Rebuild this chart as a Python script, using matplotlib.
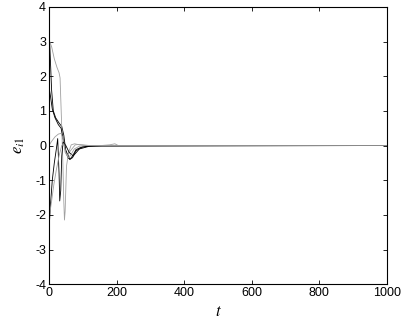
import matplotlib
matplotlib.use("Agg")
import matplotlib.pyplot as plt

plt.rcParams['font.family'] = ['Liberation Sans', 'DejaVu Sans']
plt.rcParams['mathtext.fontset'] = 'stix'
plt.rcParams['axes.unicode_minus'] = False

# Curve samples (t, e_i1)
t1 = [0, 3, 8, 13, 20, 30, 38, 44, 50, 56, 62, 70, 80, 95, 120, 160, 1000]
e1 = [3.5, 2.8, 1.6, 1.0, 0.8, 0.65, 0.55, 0.3, -0.15, -0.35, -0.4, -0.3, -0.12, -0.05, -0.02, 0.0, 0.0]

t2 = [2, 8, 16, 24, 30, 33, 37, 41, 44, 46, 48, 52, 58, 66, 76, 90, 130, 180, 195, 205, 1000]
e2 = [3.0, 2.85, 2.5, 2.25, 2.1, 1.95, 0.8, -0.4, -1.6, -2.15, -1.9, -0.6, -0.2, 0.02, 0.05, 0.02, -0.02, 0.02, 0.05, 0.0, 0.0]

t3 = [0, 5, 10, 18, 28, 36, 42, 48, 55, 62, 70, 80, 100, 140, 1000]
e3 = [1.7, 1.4, 1.05, 0.8, 0.6, 0.5, 0.2, -0.1, -0.25, -0.4, -0.35, -0.15, -0.04, 0.0, 0.0]

t4 = [0, 8, 18, 28, 36, 42, 48, 54, 60, 68, 78, 90, 120, 1000]
e4 = [0.0, 0.12, 0.25, 0.33, 0.35, 0.2, -0.2, -0.3, -0.2, -0.1, 0.02, 0.03, 0.0, 0.0]

t5 = [0, 4, 10, 16, 22, 26, 30, 32, 35, 38, 42, 50, 60, 72, 90, 120, 1000]
e5 = [-2.5, -1.8, -1.0, -0.5, -0.1, 0.2, -0.8, -1.6, -1.3, -0.3, 0.1, 0.0, -0.2, -0.3, -0.1, -0.02, 0.0]

t6 = [2, 8, 15, 22, 30, 38, 44, 50, 58, 66, 75, 90, 110, 1000]
e6 = [-2.0, -1.6, -1.1, -0.7, -0.3, 0.0, 0.05, -0.2, -0.35, -0.25, -0.1, -0.02, 0.0, 0.0]

series = [(t1, e1, 'black'), (t2, e2, '#a0a0a0'), (t3, e3, 'black'),
          (t4, e4, '#a0a0a0'), (t5, e5, 'black'), (t6, e6, '#a0a0a0')]

xticks = [0, 200, 400, 600, 800, 1000]
yticks = [-4, -3, -2, -1, 0, 1, 2, 3, 4]

fig = plt.figure(figsize=(4.18, 3.27), dpi=100)
ax = fig.add_axes([0.117, 0.131, 0.809, 0.848])
for t, e, c in series:
    ax.plot(t, e, color=c, lw=0.6)

ax.set_xlim(0, 1000)
ax.set_ylim(-4, 4)
ax.set_xticks(xticks)
ax.set_yticks(yticks)
ax.tick_params(direction='in', top=True, right=True, length=3, width=0.6,
               labelsize=9, pad=2)
for s in ax.spines.values():
    s.set_linewidth(0.8)
ax.set_xlabel(r'$t$', fontsize=12, labelpad=4)
ax.set_ylabel(r'$e_{i1}$', fontsize=12, labelpad=6)

fig.savefig('out.png', dpi=100)
